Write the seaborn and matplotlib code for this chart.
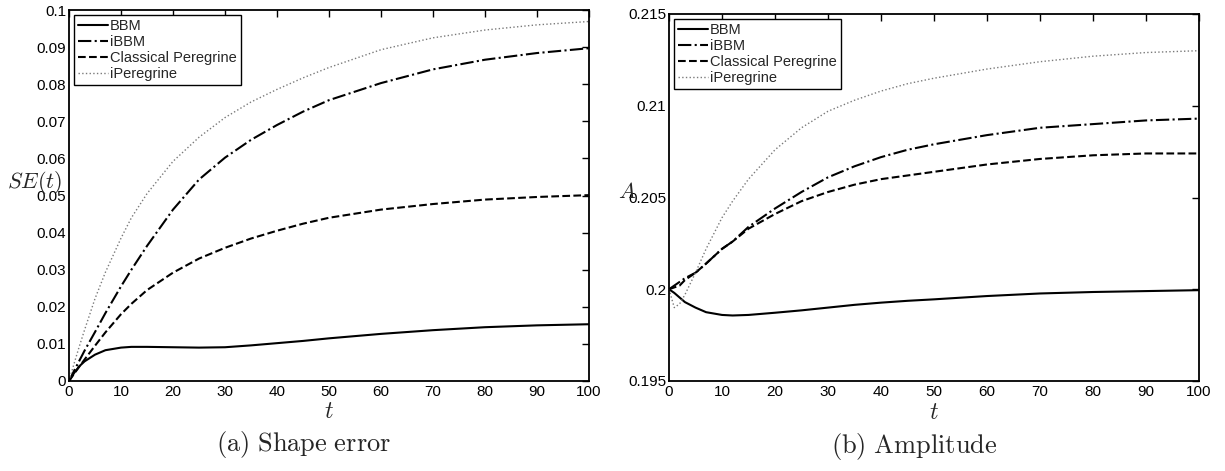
import numpy as np
import pandas as pd
import seaborn as sns
import matplotlib
matplotlib.use("Agg")
import matplotlib.pyplot as plt

# time samples
t = [0, 1, 2, 3, 5, 7, 10, 12, 15, 20, 25, 30, 35, 40, 45, 50, 60, 70, 80, 90, 100]

# (a) shape error
se_bbm = [0, 0.0022, 0.0040, 0.0053, 0.0071, 0.0083, 0.0090, 0.0092, 0.0092, 0.0091, 0.0090,
          0.0091, 0.0096, 0.0102, 0.0108, 0.0115, 0.0127, 0.0137, 0.0145, 0.0150, 0.0153]
se_ibbm = [0, 0.0028, 0.0055, 0.0082, 0.0132, 0.0183, 0.0255, 0.0300, 0.0364, 0.0462, 0.0543,
           0.0602, 0.0650, 0.0690, 0.0726, 0.0757, 0.0803, 0.0840, 0.0866, 0.0884, 0.0897]
se_per = [0, 0.0020, 0.0039, 0.0058, 0.0095, 0.0131, 0.0180, 0.0208, 0.0245, 0.0292, 0.0330,
          0.0359, 0.0384, 0.0405, 0.0424, 0.0440, 0.0462, 0.0477, 0.0489, 0.0496, 0.0501]
se_iper = [0, 0.0048, 0.0094, 0.0138, 0.0222, 0.0293, 0.0385, 0.0440, 0.0505, 0.0592, 0.0657,
           0.0710, 0.0752, 0.0786, 0.0817, 0.0845, 0.0893, 0.0925, 0.0946, 0.0960, 0.0969]

# (b) amplitude
a_bbm = [0.2, 0.1998, 0.19955, 0.1993, 0.1990, 0.19875, 0.1986, 0.19857, 0.1986, 0.19872, 0.19885,
         0.1990, 0.19915, 0.19927, 0.19937, 0.19945, 0.19963, 0.19977, 0.19985, 0.1999, 0.19995]
a_ibbm = [0.2, 0.2002, 0.2004, 0.2006, 0.2009, 0.2014, 0.2022, 0.2026, 0.2034, 0.2044, 0.2053,
          0.2061, 0.2067, 0.2072, 0.2076, 0.2079, 0.2084, 0.2088, 0.2090, 0.2092, 0.2093]
a_per = [0.2, 0.2001, 0.2002, 0.2005, 0.2009, 0.2014, 0.2022, 0.2026, 0.2033, 0.2041, 0.2048,
         0.2053, 0.2057, 0.2060, 0.2062, 0.2064, 0.2068, 0.2071, 0.2073, 0.2074, 0.2074]
a_iper = [0.2, 0.1990, 0.1992, 0.1997, 0.2009, 0.2022, 0.2039, 0.2048, 0.2060, 0.2076, 0.2088,
          0.2097, 0.2103, 0.2108, 0.2112, 0.2115, 0.2120, 0.2124, 0.2127, 0.2129, 0.2130]

models = ["BBM", "iBBM", "Classical Peregrine", "iPeregrine"]
se_ticks = [0, 0.01, 0.02, 0.03, 0.04, 0.05, 0.06, 0.07, 0.08, 0.09, 0.1]
se_ticklabels = ["0", "0.01", "0.02", "0.03", "0.04", "0.05", "0.06", "0.07", "0.08", "0.09", "0.1"]
a_ticks = [0.195, 0.2, 0.205, 0.21, 0.215]
a_ticklabels = ["0.195", "0.2", "0.205", "0.21", "0.215"]
x_ticks = [0, 10, 20, 30, 40, 50, 60, 70, 80, 90, 100]

styles = {
    "BBM": dict(color="black", linestyle="-", linewidth=1.5),
    "iBBM": dict(color="black", linestyle="-.", linewidth=1.5),
    "Classical Peregrine": dict(color="black", linestyle="--", linewidth=1.5),
    "iPeregrine": dict(color="#7a7a7a", linestyle=":", linewidth=1.0),
}

sns.set_theme(style="white")
plt.rcParams["font.family"] = ["Liberation Sans", "DejaVu Sans"]
plt.rcParams["mathtext.fontset"] = "cm"

W, H = 1225, 471
fig = plt.figure(figsize=(W / 100, H / 100), dpi=100)
# axes boxes in pixels: left, right, top, bottom
ax1 = fig.add_axes([69 / W, 1 - 381 / H, 520 / W, 371 / H])
ax2 = fig.add_axes([669 / W, 1 - 381 / H, 530 / W, 367 / H])


def draw(ax, series):
    for name, vals in zip(models, series):
        sns.lineplot(x=t, y=vals, ax=ax, label=name, **styles[name])


draw(ax1, [se_bbm, se_ibbm, se_per, se_iper])
draw(ax2, [a_bbm, a_ibbm, a_per, a_iper])

for ax in (ax1, ax2):
    ax.set_xlim(0, 100)
    ax.set_xticks(x_ticks)
    ax.set_xticklabels([str(v) for v in x_ticks])
    ax.tick_params(direction="in", length=5, width=1, top=True, right=True,
                   labelsize=11, colors="black")
    ax.tick_params(axis="x", pad=3)
    ax.tick_params(axis="y", pad=2)
    for s in ax.spines.values():
        s.set_color("black")
        s.set_linewidth(1.3)
    ax.set_xlabel("")
    ax.set_ylabel("")
    leg = ax.legend(loc="upper left", fontsize=10.5, frameon=True, fancybox=False,
                    edgecolor="black", framealpha=1, borderpad=0.3, labelspacing=0.12,
                    handlelength=2.0, handletextpad=0.15, borderaxespad=0.35)
    leg.get_frame().set_linewidth(1.0)

ax1.set_ylim(0, 0.1)
ax1.set_yticks(se_ticks)
ax1.set_yticklabels(se_ticklabels)
ax2.set_ylim(0.195, 0.215)
ax2.set_yticks(a_ticks)
ax2.set_yticklabels(a_ticklabels)

# axis labels, MATLAB style
ax1.text(0.5, -31 / 371, r"$t$", transform=ax1.transAxes, fontsize=17, ha="center", va="center")
ax2.text(0.5, -32 / 367, r"$t$", transform=ax2.transAxes, fontsize=17, ha="center", va="center")
fig.text(7 / W, 1 - 183 / H, r"$SE(t)$", fontsize=16, va="center", ha="left")
fig.text(618 / W, 1 - 192 / H, r"$A$", fontsize=16, va="center", ha="left")

# sub-captions
fig.text(304 / W, 1 - 444 / H, r"$\mathrm{(a)\ Shape\ error}$", fontsize=19,
         ha="center", va="center")
fig.text(914 / W, 1 - 446 / H, r"$\mathrm{(b)\ Amplitude}$", fontsize=19,
         ha="center", va="center")

fig.savefig("out.png", dpi=100, facecolor="white")
